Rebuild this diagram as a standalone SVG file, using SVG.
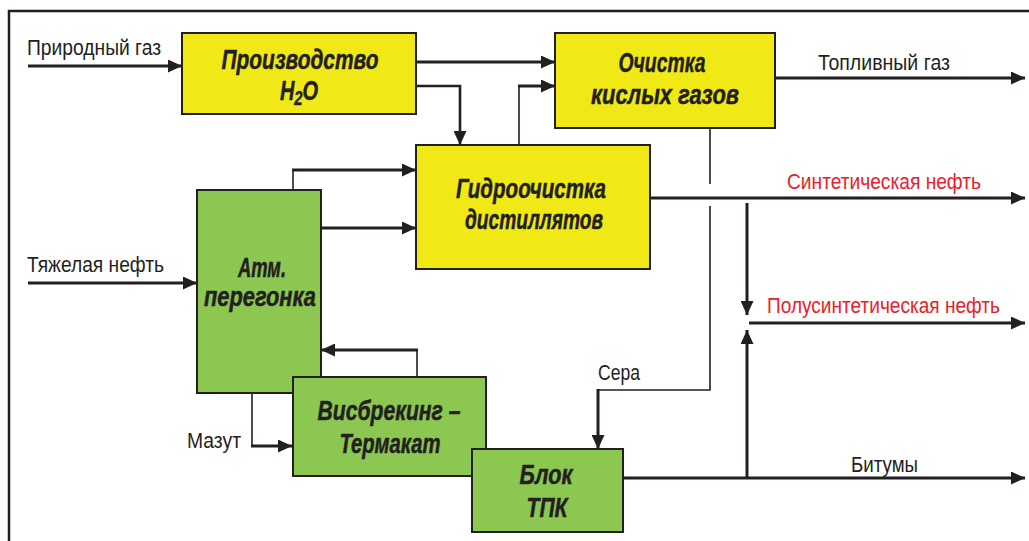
<svg xmlns="http://www.w3.org/2000/svg" width="1029" height="541" viewBox="0 0 1029 541">
<style>
.frame{fill:none;stroke:#231F20;stroke-width:2.5}
.box{stroke:#231F20;stroke-width:2}
.y{fill:#F1E916}
.g{fill:#8BC751}
.nl{font-family:"Liberation Sans",Arial,sans-serif;font-weight:bold;font-style:italic;font-size:27px;fill:#231F20;stroke:#231F20;stroke-width:0.5;text-anchor:middle}
.lb{font-family:"Liberation Sans",Arial,sans-serif;font-size:22px;fill:#231F20}
.red{fill:#E8202A}
.c{fill:none;stroke:#231F20;stroke-width:3}
.t{fill:none;stroke:#231F20;stroke-width:1.6}
</style>
<defs>
<marker id="ah" markerUnits="userSpaceOnUse" markerWidth="14" markerHeight="13" refX="14" refY="6.5" orient="auto">
<path d="M0,0 L14,6.5 L0,13 z" fill="#231F20"/>
</marker>
</defs>
<rect width="1029" height="541" fill="#FFFFFF"/>
<path class="frame" d="M9,541 V11 H1029"/>

<g id="connectors">
<path class="c" d="M28,66 H182" marker-end="url(#ah)"/>
<path class="c" d="M416,62 H555" marker-end="url(#ah)"/>
<path class="c" d="M416,86 H460 V145" marker-end="url(#ah)" style="stroke-width:2.6"/>
<path class="t" d="M519,145 V86"/>
<path class="c" d="M518,86 H555" marker-end="url(#ah)"/>
<path class="c" d="M775,78 H1025" marker-end="url(#ah)"/>
<path class="t" d="M710,128 V184 M710,206 V390 H598"/>
<path class="c" d="M598,389 V449" marker-end="url(#ah)"/>
<path class="c" d="M650,198 H1025" marker-end="url(#ah)"/>
<path class="c" d="M747,203 V315" marker-end="url(#ah)"/>
<path class="c" d="M749,323 H1025" marker-end="url(#ah)"/>
<path class="c" d="M623,478 H1025" marker-end="url(#ah)"/>
<path class="c" d="M747,478 V330" marker-end="url(#ah)"/>
<path class="c" d="M28,283 H197" marker-end="url(#ah)"/>
<path class="t" d="M293,190 V170"/>
<path class="c" d="M292,170 H416" marker-end="url(#ah)"/>
<path class="c" d="M320,228 H416" marker-end="url(#ah)"/>
<path class="t" d="M252,393 V446"/>
<path class="c" d="M251,446 H292" marker-end="url(#ah)"/>
<path class="t" d="M417,377 V350"/>
<path class="c" d="M418,350 H321" marker-end="url(#ah)"/>
</g>

<g id="labels">
<text class="lb" x="27" y="55" textLength="134" lengthAdjust="spacingAndGlyphs">Природный газ</text>
<text class="lb" x="818" y="70" textLength="132" lengthAdjust="spacingAndGlyphs">Топливный газ</text>
<text class="lb red" x="787" y="189" textLength="194" lengthAdjust="spacingAndGlyphs">Синтетическая нефть</text>
<text class="lb red" x="767" y="313" textLength="233" lengthAdjust="spacingAndGlyphs">Полусинтетическая нефть</text>
<text class="lb" x="27" y="272" textLength="137" lengthAdjust="spacingAndGlyphs">Тяжелая нефть</text>
<text class="lb" x="598" y="380" textLength="42" lengthAdjust="spacingAndGlyphs">Сера</text>
<text class="lb" x="187" y="448" textLength="54" lengthAdjust="spacingAndGlyphs">Мазут</text>
<text class="lb" x="851" y="472" textLength="67" lengthAdjust="spacingAndGlyphs">Битумы</text>
</g>

<g id="node-h2o">
<rect class="box y" x="182" y="33" width="234" height="81"/>
<text class="nl" x="300" y="69" textLength="157" lengthAdjust="spacingAndGlyphs">Производство</text>
<text class="nl" transform="translate(299,100) scale(0.74,1)" x="0" y="0">H<tspan font-size="20" dy="5">2</tspan><tspan dy="-5">O</tspan></text>
</g>

<g id="node-gas">
<rect class="box y" x="555" y="33" width="220" height="95"/>
<text class="nl" x="662" y="72" textLength="87" lengthAdjust="spacingAndGlyphs">Очистка</text>
<text class="nl" x="665" y="104" textLength="148" lengthAdjust="spacingAndGlyphs">кислых газов</text>
</g>

<g id="node-hydro">
<rect class="box y" x="416" y="145" width="234" height="124"/>
<text class="nl" x="531" y="198" textLength="150" lengthAdjust="spacingAndGlyphs">Гидроочистка</text>
<text class="nl" x="534" y="229" textLength="138" lengthAdjust="spacingAndGlyphs">дистиллятов</text>
</g>

<g id="node-atm">
<rect class="box g" x="197" y="190" width="124" height="203"/>
<text class="nl" x="262" y="277" textLength="48" lengthAdjust="spacingAndGlyphs">Атм.</text>
<text class="nl" x="260" y="306" textLength="112" lengthAdjust="spacingAndGlyphs">перегонка</text>
</g>

<g id="node-visb">
<rect class="box g" x="293" y="377" width="193" height="99"/>
<text class="nl" x="389" y="420" textLength="143" lengthAdjust="spacingAndGlyphs">Висбрекинг –</text>
<text class="nl" x="390" y="453" textLength="101" lengthAdjust="spacingAndGlyphs">Термакат</text>
</g>

<g id="node-tpk">
<rect class="box g" x="472" y="449" width="151" height="83"/>
<text class="nl" x="546" y="484" textLength="53" lengthAdjust="spacingAndGlyphs">Блок</text>
<text class="nl" x="547" y="517" textLength="41" lengthAdjust="spacingAndGlyphs">ТПК</text>
</g>
</svg>
